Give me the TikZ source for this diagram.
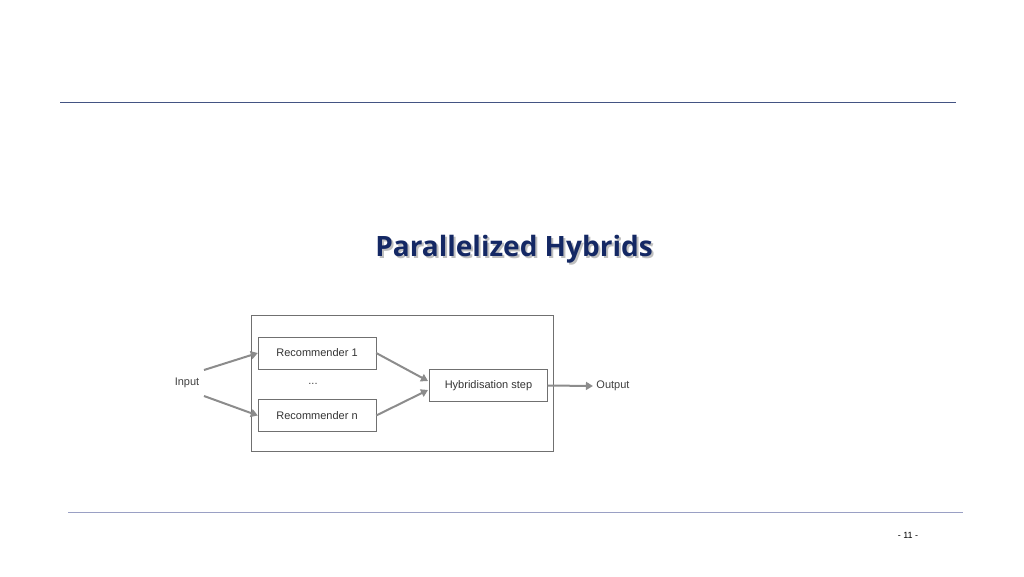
\documentclass[tikz,border=0pt]{standalone}
\usepackage{fontspec}
\setmainfont{Liberation Sans}
\newfontfamily\titlefont{Open Sans}
\usetikzlibrary{arrows.meta}
\definecolor{Col1}{RGB}{20,40,100}
\definecolor{Col2}{RGB}{140,140,140}
\definecolor{Col3}{RGB}{110,120,170}
\tikzstyle{Box}=[draw=Col2!80!black,thin,minimum width=118pt,minimum height=32pt,
inner sep=0pt,font=\fontsize{11}{13}\selectfont,text=black!80]
\tikzstyle{Edge}=[draw=Col2,line width=2pt,-{Triangle[length=7pt,width=8pt]}]
\tikzstyle{Label}=[font=\fontsize{11}{13}\selectfont,text=black!75]
\begin{document}
\begin{tikzpicture}[x=1pt,y=-1pt]
        \useasboundingbox(0,0)rectangle(1024,576);
        \draw[Col1!80,thin](60,102)--(956,102);
        \draw[Col3!70,thin](68,512)--(963,512);
        \node[font=\titlefont\bfseries\fontsize{28}{32}\selectfont,text=black!25]at(516,251){Parallelized Hybrids};
        \node[font=\titlefont\bfseries\fontsize{28}{32}\selectfont,text=Col1](title)at(514,249){Parallelized Hybrids};
        \node[font=\fontsize{9}{11}\selectfont](page)at(908,535){- 11 -};
        \draw[Col2!80!black,thin](251,315)rectangle(553,451);
        \node[Box](rec1)at(317,353){Recommender 1};
        \node[Box](recn)at(317,415.5){Recommender n};
        \node[Box](hyb)at(488.5,385.5){Hybridisation step};
        \node[Label](input)at(187,383){Input};
        \node[Label](dots)at(313,384){...};
        \node[Label](output)at(613,386){Output};
        \coordinate(in1)at(204,370);
        \coordinate(in2)at(204,396);
        \coordinate(h1)at(428,381);
        \coordinate(h2)at(428,390);
        \draw[Edge](in1)--(rec1.west);
        \draw[Edge](in2)--(recn.west);
        \draw[Edge](rec1.east)--(h1);
        \draw[Edge](recn.east)--(h2);
        \draw[Edge](hyb.east)--(output.west);
    \end{tikzpicture}
\end{document}
